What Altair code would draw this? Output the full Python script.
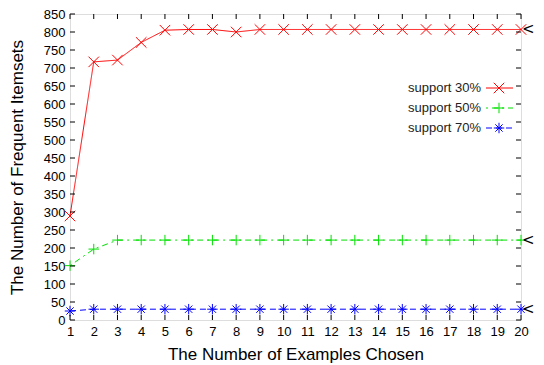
import altair as alt
import pandas as pd

examples = list(range(1, 21))
series_names = ["support 30%", "support 50%", "support 70%"]
support30 = [289, 717, 722, 771, 805, 807, 807, 800, 807, 807, 807, 807, 807, 807, 807, 807, 807, 807, 807, 807]
support50 = [151, 197, 222, 222, 222, 222, 222, 222, 222, 222, 222, 222, 222, 222, 222, 222, 222, 222, 222, 222]
support70 = [25, 30, 30, 30, 30, 30, 30, 30, 30, 30, 30, 30, 30, 30, 30, 30, 30, 30, 30, 30]
y_ticks = list(range(0, 851, 50))

colors = ["#ff0000", "#00e000", "#0000ff"]
dashes = [[1, 0], [2, 4, 6, 4], [6, 4]]
shapes = [
    "M-1,-1L1,1M-1,1L1,-1",
    "M-1,0L1,0M0,-1L0,1",
    "M-1,0L1,0M0,-1L0,1M-0.7,-0.7L0.7,0.7M-0.7,0.7L0.7,-0.7",
]

rows = []
for name, vals in zip(series_names, [support30, support50, support70]):
    for x, v in zip(examples, vals):
        rows.append({"x": x, "y": v, "series": name})
df = pd.DataFrame(rows)

W, H = 451, 306
FONT = "Liberation Sans"

xs = alt.Scale(domain=[1, 20], nice=False, zero=False)
ys = alt.Scale(domain=[0, 850], nice=False)
xaxis = alt.Axis(values=examples, title="The Number of Examples Chosen", ticks=False, domain=False,
                 grid=False, labelPadding=5, labelFontSize=13, titleFontSize=17, titleFontWeight="normal",
                 titleY=34, titleBaseline="middle", labelFlush=False, labelOverlap=False)
yaxis = alt.Axis(values=y_ticks, title="The Number of Frequent Itemsets", ticks=False, domain=False,
                 grid=False, labelPadding=5, labelFontSize=13, titleFontSize=17, titleFontWeight="normal",
                 titleX=-53, titleY=H / 2, titleBaseline="middle", titleAngle=-90, labelFlush=False,
                 labelOverlap=False)
X = alt.X("x:Q", scale=xs, axis=xaxis)
Y = alt.Y("y:Q", scale=ys, axis=yaxis)

color = alt.Color("series:N", scale=alt.Scale(domain=series_names, range=colors), legend=None)
dash = alt.StrokeDash("series:N", scale=alt.Scale(domain=series_names, range=dashes), legend=None)
shape = alt.Shape("series:N", scale=alt.Scale(domain=series_names, range=shapes), legend=None)

lines = alt.Chart(df).mark_line(strokeWidth=1).encode(x=X, y=Y, color=color, strokeDash=dash, detail="series:N")
points = alt.Chart(df).mark_point(filled=False, size=110, strokeWidth=1, opacity=1).encode(
    x=X, y=Y, color=color, shape=shape)

last = df[df["x"] == 20]
arrows = alt.Chart(last).mark_text(text="<", align="left", baseline="middle", dx=1, fontSize=15,
                                   font="DejaVu Sans", fontWeight="normal", color="black").encode(x=X, y=Y)

ytdf = pd.DataFrame({"y": y_ticks})
xtdf = pd.DataFrame({"x": examples})
tl = alt.Chart(ytdf).mark_rule(color="black", strokeWidth=1).encode(y=Y, x=alt.value(0), x2=alt.value(5))
tr = alt.Chart(ytdf).mark_rule(color="black", strokeWidth=1).encode(y=Y, x=alt.value(W - 5), x2=alt.value(W))
tb = alt.Chart(xtdf).mark_rule(color="black", strokeWidth=1).encode(x=X, y=alt.value(H - 5), y2=alt.value(H))
tt = alt.Chart(xtdf).mark_rule(color="black", strokeWidth=1).encode(x=X, y=alt.value(0), y2=alt.value(5))

legend_layers = []
for i, name in enumerate(series_names):
    ly = 74 + 20 * i
    ldf = pd.DataFrame({"label": [name]})
    legend_layers.append(alt.Chart(ldf).mark_text(align="right", baseline="middle", fontSize=13,
                                                  font=FONT, color="#222").encode(
        text="label:N", x=alt.value(W - 40), y=alt.value(ly)))
    legend_layers.append(alt.Chart(ldf).mark_rule(color=colors[i], strokeWidth=1, strokeDash=dashes[i]).encode(
        x=alt.value(W - 35), x2=alt.value(W - 8), y=alt.value(ly)))
    legend_layers.append(alt.Chart(ldf).mark_point(filled=False, size=110, strokeWidth=1, color=colors[i],
                                                   shape=shapes[i], opacity=1).encode(
        x=alt.value(W - 22), y=alt.value(ly)))

chart = alt.layer(lines, points, arrows, tl, tr, tb, tt, *legend_layers).properties(
    width=W, height=H,
    autosize=alt.AutoSizeParams(type="none"),
    padding={"left": 62, "top": 6, "right": 15, "bottom": 45},
).configure_view(stroke="black", strokeWidth=1).configure_axis(
    labelFont=FONT, titleFont=FONT, labelColor="#222", titleColor="#222"
).configure(background="white")

chart.save("out.html", embed_options={"renderer": "svg", "actions": False})
